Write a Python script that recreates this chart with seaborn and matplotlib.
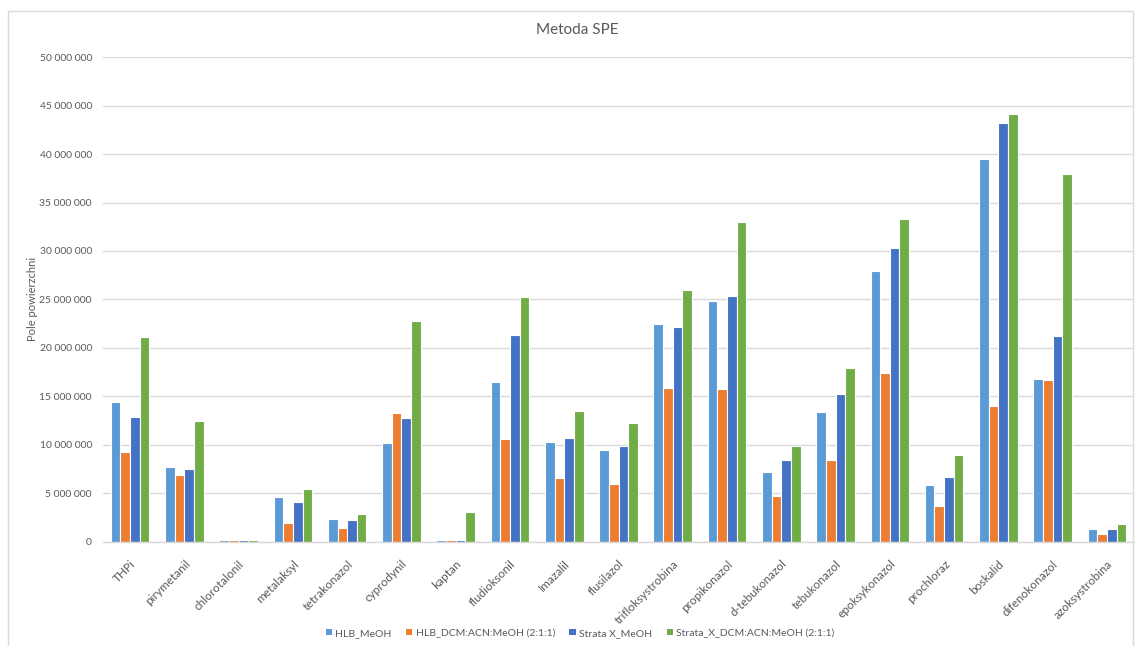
import matplotlib
matplotlib.use("Agg")
import matplotlib.pyplot as plt
import matplotlib.ticker as mticker
from matplotlib.patches import Patch, Rectangle
import numpy as np
import pandas as pd
import seaborn as sns

# Peak areas per compound for each SPE cartridge / elution solvent
compounds = ["THPi", "pirymetanil", "chlorotalonil", "metalaksyl", "tetrakonazol",
             "cyprodynil", "kaptan", "fludioksonil", "Imazalil", "flusilazol",
             "trifloksystrobina", "propikonazol", "d-tebukonazol", "tebukonazol",
             "epoksykonazol", "prochloraz", "boskalid", "difenokonazol", "azoksystrobina"]

series_names = ["HLB_MeOH", "HLB_DCM:ACN:MeOH (2:1:1)", "Strata X_MeOH",
                "Strata_X_DCM:ACN:MeOH (2:1:1)"]

hlb_meoh = [14.45e6, 7.65e6, 0.15e6, 4.55e6, 2.29e6, 10.17e6, 0.15e6, 16.5e6, 10.3e6,
            9.47e6, 22.45e6, 24.86e6, 7.2e6, 13.36e6, 27.96e6, 5.86e6, 39.5e6, 16.8e6, 1.3e6]
hlb_dcm = [9.27e6, 6.87e6, 0.15e6, 1.88e6, 1.36e6, 13.24e6, 0.15e6, 10.6e6, 6.6e6,
           5.96e6, 15.88e6, 15.73e6, 4.65e6, 8.4e6, 17.36e6, 3.69e6, 14.02e6, 16.7e6, 0.79e6]
strata_meoh = [12.9e6, 7.52e6, 0.15e6, 4.05e6, 2.19e6, 12.75e6, 0.15e6, 21.3e6, 10.7e6,
               9.88e6, 22.18e6, 25.38e6, 8.4e6, 15.2e6, 30.34e6, 6.68e6, 43.2e6, 21.25e6, 1.3e6]
strata_dcm = [21.15e6, 12.44e6, 0.15e6, 5.39e6, 2.81e6, 22.8e6, 3.0e6, 25.2e6, 13.5e6,
              12.26e6, 25.93e6, 33.03e6, 9.88e6, 17.9e6, 33.3e6, 8.92e6, 44.15e6, 37.95e6, 1.82e6]

colors = ["#5B9BD5", "#ED7D31", "#4472C4", "#70AD47"]
text_grey = "#595959"
grid_grey = "#D9D9D9"

df = pd.DataFrame({
    "compound": compounds * 4,
    "method": sum([[s] * len(compounds) for s in series_names], []),
    "area": hlb_meoh + hlb_dcm + strata_meoh + strata_dcm,
})

sns.set_theme(style="white")
plt.rcParams["font.family"] = ["Lato", "DejaVu Sans"]

fig = plt.figure(figsize=(11.35, 6.46), dpi=100)
ax = fig.add_axes([103 / 1135, 1 - 541.5 / 646, 1031 / 1135, (541.5 - 57.3) / 646])

sns.barplot(data=df, x="compound", y="area", hue="method", hue_order=series_names,
            order=compounds, palette=colors, width=0.71, edgecolor="white",
            linewidth=0.8, saturation=1, legend=False, ax=ax)

ax.set_ylim(0, 50e6)
ax.yaxis.set_major_locator(mticker.MultipleLocator(5e6))
ax.yaxis.set_major_formatter(mticker.FuncFormatter(
    lambda v, p: "0" if v == 0 else f"{int(round(v)):,}".replace(",", " ")))
ax.grid(axis="y", color=grid_grey, linewidth=1.0)
ax.set_axisbelow(True)
for side in ["top", "right", "left"]:
    ax.spines[side].set_visible(False)
ax.spines["bottom"].set_color(grid_grey)
ax.spines["bottom"].set_linewidth(1.0)
ax.tick_params(axis="both", length=0, colors=text_grey, labelsize=7.5)
ax.tick_params(axis="y", pad=8)
ax.set_xlabel("")
ax.set_ylabel("Pole powierzchni", color=text_grey, fontsize=8, labelpad=1)
ax.set_xticks(range(len(compounds)))
ax.set_xticklabels(compounds, rotation=45, ha="right", rotation_mode="anchor",
                   fontsize=8.5)
ax.tick_params(axis="x", pad=12)

fig.text(0.509, 1 - 30 / 646, "Metoda SPE", ha="center", va="center",
         color=text_grey, fontsize=11)

handles = [Patch(facecolor=c, edgecolor="none", label=n) for c, n in zip(colors, series_names)]
fig.legend(handles=handles, loc="center", bbox_to_anchor=(0.511, 1 - 633 / 646), ncol=4,
           frameon=False, handlelength=0.6, handleheight=0.6, handletextpad=0.3,
           columnspacing=1.4, labelcolor=text_grey, fontsize=7.5)

fig.patches.append(Rectangle((8 / 1135, -0.01), 1125 / 1135, 1 - 10.5 / 646 + 0.01,
                             transform=fig.transFigure, fill=False,
                             edgecolor=grid_grey, linewidth=1.0))

fig.savefig("out.png", dpi=100, facecolor="white")
